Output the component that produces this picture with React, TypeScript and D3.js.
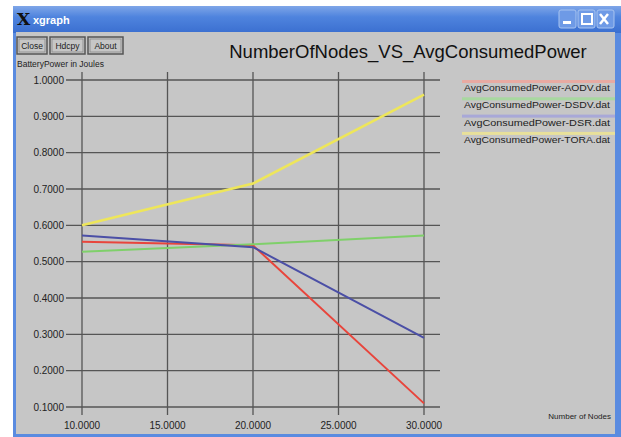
import React from "react";
import * as d3 from "d3";

const xTicks = [10, 15, 20, 25, 30];
const yTicks = [0.1, 0.2, 0.3, 0.4, 0.5, 0.6, 0.7, 0.8, 0.9, 1.0];
const nodes = [10, 20, 30];
const aodv = [0.555, 0.545, 0.11];
const dsdv = [0.527, 0.548, 0.572];
const dsr = [0.572, 0.54, 0.29];
const tora = [0.6, 0.715, 0.96];
const seriesNames = [
  "AvgConsumedPower-AODV.dat",
  "AvgConsumedPower-DSDV.dat",
  "AvgConsumedPower-DSR.dat",
  "AvgConsumedPower-TORA.dat",
];
const seriesColors = ["#e8453c", "#7fd06a", "#4b4fa6", "#eee65a"];
const legendBands = ["#e8aaa2", "#a8d8a0", "#a8a8d8", "#e8e09a"];

export default function App() {
  const W = 621, H = 437;
  const x = d3.scaleLinear().domain([10, 30]).range([82, 424]);
  const y = d3.scaleLinear().domain([0.1, 1.0]).range([407, 80]);
  const line = d3.line<[number, number]>().x(d => x(d[0])).y(d => y(d[1]));
  const allSeries = [aodv, dsdv, dsr, tora];
  const font = "Arial, 'Liberation Sans', sans-serif";
  return (
    <svg width={W} height={H} style={{ position: "absolute", left: 0, top: 0 }} fontFamily={font}>
      <defs>
        <linearGradient id="tb" x1="0" y1="0" x2="0" y2="1">
          <stop offset="0" stopColor="#7fa6e8" />
          <stop offset="0.4" stopColor="#4f84de" />
          <stop offset="1" stopColor="#3b6fd0" />
        </linearGradient>
      </defs>
      <rect x={0} y={0} width={W} height={H} fill="#ffffff" />
      {/* window frame */}
      <rect x={13} y={6} width={W - 13} height={H - 6} fill="#5a8be0" />
      <rect x={13} y={6} width={W - 13} height={27} fill="url(#tb)" />
      <rect x={16} y={32} width={599} height={402} fill="#c6c6c6" />
      {/* title bar text */}
      <text x={17} y={25} fontSize={17} fontWeight="bold" fill="#111" fontFamily="'DejaVu Serif', serif">X</text>
      <text x={33} y={24} fontSize={11} fontWeight="bold" fill="#ffffff">xgraph</text>
      {[0, 1, 2].map(i => (
        <rect key={i} x={559 + i * 19} y={10} width={17} height={18} rx={2} fill="#6e9ae6" stroke="#a8c4f0" strokeWidth={1} />
      ))}
      <rect x={563} y={21} width={8} height={3} fill="#fff" />
      <rect x={582} y={14} width={10} height={10} fill="none" stroke="#fff" strokeWidth={2} />
      <path d="M600,14 L608,24 M608,14 L600,24" stroke="#fff" strokeWidth={2.5} />
      {/* buttons */}
      {[
        { t: "Close", x0: 17, w: 30 },
        { t: "Hdcpy", x0: 50, w: 35 },
        { t: "About", x0: 88, w: 35 },
      ].map(b => (
        <g key={b.t}>
          <rect x={b.x0} y={37} width={b.w} height={17} fill="#c6c6c6" stroke="#555" strokeWidth={1.5} />
          <rect x={b.x0 + 2} y={39} width={b.w - 4} height={13} fill="none" stroke="#888" strokeWidth={0.8} />
          <text x={b.x0 + b.w / 2} y={49} fontSize={8.5} textAnchor="middle" fill="#222">{b.t}</text>
        </g>
      ))}
      <text x={17} y={67} fontSize={8.5} fill="#222">BatteryPower in Joules</text>
      <text x={408} y={58} fontSize={18.5} textAnchor="middle" fill="#111">NumberOfNodes_VS_AvgConsumedPower</text>
      {/* grid */}
      {yTicks.map(v => (
        <g key={v}>
          <line x1={66} x2={440} y1={y(v)} y2={y(v)} stroke="#555" strokeWidth={1.3} />
          <text x={64} y={y(v) + 3.5} fontSize={10} textAnchor="end" fill="#222">{v.toFixed(4)}</text>
        </g>
      ))}
      {xTicks.map(v => (
        <g key={v}>
          <line x1={x(v)} x2={x(v)} y1={72} y2={415} stroke="#555" strokeWidth={1.3} />
          <text x={x(v)} y={429} fontSize={10} textAnchor="middle" fill="#222">{v.toFixed(4)}</text>
        </g>
      ))}
      {/* series */}
      {allSeries.map((s, i) => (
        <path key={i} d={line(nodes.map((n, j) => [n, s[j]] as [number, number])) || ""} fill="none" stroke={seriesColors[i]} strokeWidth={i === 3 ? 2.5 : 2} />
      ))}
      {/* legend */}
      {seriesNames.map((nm, i) => (
        <g key={nm}>
          <rect x={462} y={80 + i * 17.3} width={153} height={3} fill={legendBands[i]} />
          <text x={464} y={91 + i * 17.3} fontSize={9} fill="#222" textLength={146} lengthAdjust="spacingAndGlyphs">{nm}</text>
        </g>
      ))}
      <text x={611} y={419} fontSize={8} textAnchor="end" fill="#222">Number of Nodes</text>
    </svg>
  );
}
